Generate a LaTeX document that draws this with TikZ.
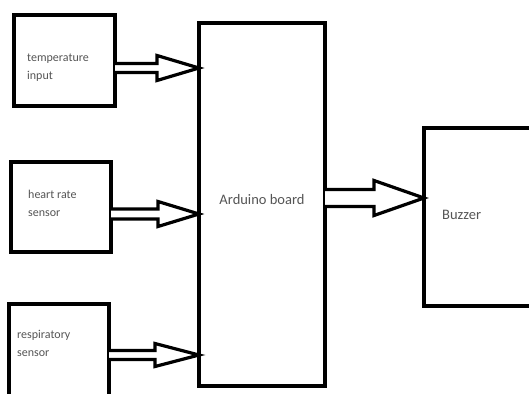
\documentclass[tikz,border=0pt]{standalone}
\usepackage{fontspec}
\setmainfont{Carlito}
\usetikzlibrary{calc}
\definecolor{txtgray}{HTML}{555555}
\tikzset{
  blk/.style={draw=black, line width=3.5pt, fill=none, inner sep=0pt, outer sep=0pt},
  lbl/.style={anchor=west, text=txtgray, font=\fontsize{12}{18}\selectfont, align=left, inner sep=0pt},
  biglbl/.style={text=txtgray, font=\fontsize{14.5}{17}\selectfont, inner sep=0pt},
  barr/.style={draw=black, line width=3.2pt, line join=miter, fill=white},
}
\begin{document}
\begin{tikzpicture}[x=1pt,y=-1pt]
\useasboundingbox (0,0) rectangle (529,393);
\clip (0,0) rectangle (529,393);
\fill[white] (0,0) rectangle (529,393);
% boxes
\node[blk, minimum width=101pt, minimum height=91pt] (temp) at (64.5,60.5) {};
\node[blk, minimum width=100pt, minimum height=90pt] (heart) at (61,207) {};
\node[blk, minimum width=100pt, minimum height=100pt] (resp) at (59,354) {};
\node[blk, minimum width=126pt, minimum height=363pt] (ard) at (262,204.5) {};
\node[blk, minimum width=112pt, minimum height=178pt] (buz) at (480,217) {};
% labels
\node[lbl] (tempt) at (27,68) {temperature\\input};
\node[lbl] (heartt) at (28,203) {heart rate\\sensor};
\node[lbl] (respt) at (17,343) {respiratory\\sensor};
\node[biglbl] (ardt) at (262,200) {Arduino board};
\node[biglbl, anchor=west] (buzt) at (442,215) {Buzzer};
% arrow y levels
\coordinate (y1) at (0,68);
\coordinate (y2) at (0,214);
\coordinate (y3) at (0,355);
\coordinate (y4) at (0,198);
\coordinate (a1s) at (temp.east |- y1);
\coordinate (a1e) at (ard.west |- y1);
\coordinate (a2s) at (heart.east |- y2);
\coordinate (a2e) at (ard.west |- y2);
\coordinate (a3s) at (resp.east |- y3);
\coordinate (a3e) at (ard.west |- y3);
\coordinate (a4s) at (ard.east |- y4);
\coordinate (a4e) at (buz.west |- y4);
% block arrows
\draw[barr] ($(a1s)+(0,-4.5)$) -- ($(a1e)+(-42,-4.5)$) -- ($(a1e)+(-42,-12.5)$) -- (a1e)
  -- ($(a1e)+(-42,12.5)$) -- ($(a1e)+(-42,4.5)$) -- ($(a1s)+(0,4.5)$);
\draw[barr] ($(a2s)+(0,-5)$) -- ($(a2e)+(-41,-5)$) -- ($(a2e)+(-41,-12.5)$) -- (a2e)
  -- ($(a2e)+(-41,12.5)$) -- ($(a2e)+(-41,5)$) -- ($(a2s)+(0,5)$);
\draw[barr] ($(a3s)+(0,-4.5)$) -- ($(a3e)+(-44,-4.5)$) -- ($(a3e)+(-44,-11.5)$) -- (a3e)
  -- ($(a3e)+(-44,11.5)$) -- ($(a3e)+(-44,4.5)$) -- ($(a3s)+(0,4.5)$);
\draw[barr] ($(a4s)+(0,-8.5)$) -- ($(a4e)+(-50,-8.5)$) -- ($(a4e)+(-50,-17.5)$) -- (a4e)
  -- ($(a4e)+(-50,17.5)$) -- ($(a4e)+(-50,8.5)$) -- ($(a4s)+(0,8.5)$);
\end{tikzpicture}
\end{document}
